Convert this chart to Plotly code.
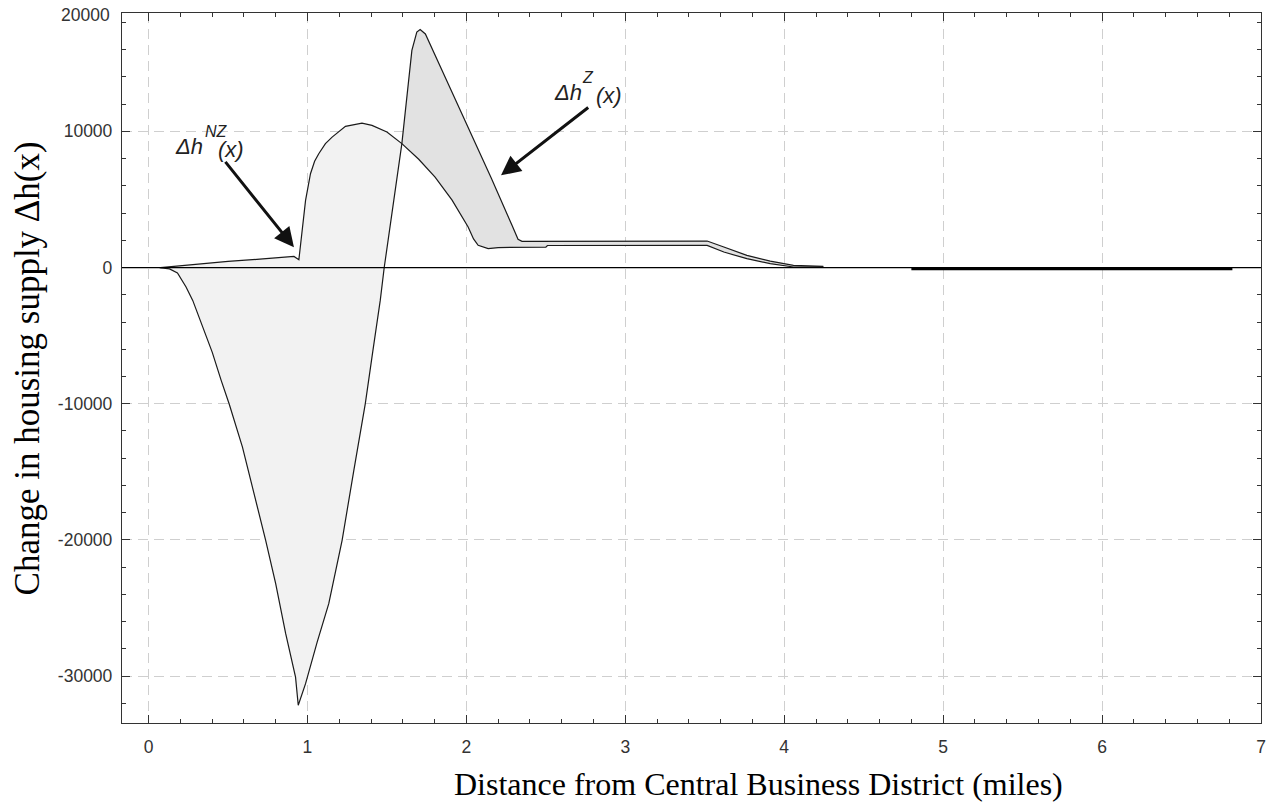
import plotly.graph_objects as go

# ---- data ----
# Delta h^NZ(x)
x_nz = [0.075, 0.30, 0.50, 0.70, 0.915, 0.946, 0.963, 0.975, 0.988, 1.019, 1.045, 1.071,
        1.113, 1.155, 1.239, 1.343, 1.406, 1.50, 1.594, 1.70, 1.803, 1.91, 2.011, 2.045,
        2.074, 2.137, 2.20, 2.50, 2.51, 3.515, 3.62, 3.765, 3.912, 4.058, 4.246]
y_nz = [0, 260, 450, 620, 820, 580, 2490, 3800, 4930, 6890, 7800, 8360,
        9100, 9580, 10370, 10600, 10440, 9950, 9100, 7950, 6645, 4950, 2975, 2100,
        1630, 1390, 1470, 1490, 1620, 1630, 1140, 650, 290, 40, 60]

# Delta h^Z(x)
x_z = [0.069, 0.132, 0.182, 0.236, 0.278, 0.338, 0.401, 0.457, 0.508, 0.591, 0.675, 0.737,
       0.800, 0.863, 0.925, 0.942, 0.988, 1.061, 1.134, 1.218, 1.291, 1.364, 1.412, 1.458,
       1.483, 1.594, 1.657, 1.688, 1.709, 1.742, 1.886, 2.011, 2.157, 2.287, 2.325, 2.35,
       3.515, 3.62, 3.765, 3.912, 4.058, 4.246]
y_z = [0, -95, -390, -1430, -2410, -4240, -6230, -8280, -10040, -13180, -17090, -20030,
       -23210, -26880, -30070, -32140, -30550, -27500, -24680, -20030, -14940, -9990, -6080,
       -2410, 0, 9100, 15950, 17290, 17470, 17150, 13480, 10300, 6550, 3100, 2070, 1920,
       1945, 1505, 895, 477, 160, 90]

# far tail (both curves just below zero)
x_tail = [4.80, 6.82]
y_tail = [-95, -95]

x_cross = 1.594  # where the two curves intersect

x_ticks = [0, 1, 2, 3, 4, 5, 6, 7]
x_ticktext = ["0", "1", "2", "3", "4", "5", "6", "7"]
y_ticks = [-30000, -20000, -10000, 0, 10000]
y_ticktext = ["-30000", "-20000", "-10000", "0", "10000"]
y_top_label = "20000"

# ---- fill polygons between the curves ----
def region(lo, hi):
    nx = [a for a in x_nz if lo <= a <= hi]
    ny = [b for a, b in zip(x_nz, y_nz) if lo <= a <= hi]
    zx = [a for a in x_z if lo <= a <= hi][::-1]
    zy = [b for a, b in zip(x_z, y_z) if lo <= a <= hi][::-1]
    return nx + zx, ny + zy

ax_, ay_ = region(0, x_cross)
bx_, by_ = region(x_cross, 10)

fig = go.Figure()
fig.add_trace(go.Scatter(x=ax_, y=ay_, mode="lines", fill="toself",
                         fillcolor="#f2f2f2", line=dict(width=0), hoverinfo="skip"))
fig.add_trace(go.Scatter(x=bx_, y=by_, mode="lines", fill="toself",
                         fillcolor="#e2e2e2", line=dict(width=0), hoverinfo="skip"))
fig.add_trace(go.Scatter(x=x_nz, y=y_nz, mode="lines",
                         line=dict(color="#1a1a1a", width=1.2)))
fig.add_trace(go.Scatter(x=x_z, y=y_z, mode="lines",
                         line=dict(color="#1a1a1a", width=1.2)))
fig.add_trace(go.Scatter(x=x_tail, y=y_tail, mode="lines",
                         line=dict(color="#000000", width=3)))

fig.add_shape(type="line", xref="paper", x0=0, x1=1, yref="y", y0=0, y1=0,
              line=dict(color="#000000", width=1.3), layer="above")

tickfont = dict(family="Liberation Sans, Arial, sans-serif", size=17.5, color="#333333")
axis_common = dict(
    showline=True, linecolor="#333333", linewidth=1.3, mirror="allticks",
    ticks="inside", ticklen=8, tickcolor="#333333", tickwidth=1,
    showgrid=True, gridcolor="#cfcfcf", gridwidth=1, griddash="10px,6px",
    zeroline=False, tickfont=tickfont, tickmode="array",
)
fig.update_xaxes(range=[-0.167, 7.0], tickvals=x_ticks, ticktext=x_ticktext,
                 ticklabelstandoff=8,
                 minor=dict(tickmode="linear", dtick=0.2, tick0=0, ticks="inside",
                            ticklen=4, tickcolor="#333333", showgrid=False),
                 **axis_common)
fig.update_yaxes(range=[-33440, 18690], tickvals=y_ticks, ticktext=y_ticktext,
                 ticklabelstandoff=5,
                 minor=dict(tickmode="linear", dtick=2000, tick0=0, ticks="inside",
                            ticklen=4, tickcolor="#333333", showgrid=False),
                 **axis_common)

ann = []
lab = dict(family="Liberation Sans, Arial, sans-serif", color="#222222")
# text labels
ann.append(dict(x=0.257, y=8900, xref="x", yref="y", text="<i>Δh</i>", showarrow=False,
                font=dict(size=22, **lab)))
ann.append(dict(x=0.428, y=10000, xref="x", yref="y", text="<i>NZ</i>", showarrow=False,
                font=dict(size=16, **lab)))
ann.append(dict(x=0.518, y=8700, xref="x", yref="y", text="<i>(x)</i>", showarrow=False,
                font=dict(size=22, **lab)))
ann.append(dict(x=2.637, y=12850, xref="x", yref="y", text="<i>Δh</i>", showarrow=False,
                font=dict(size=22, **lab)))
ann.append(dict(x=2.763, y=13950, xref="x", yref="y", text="<i>Z</i>", showarrow=False,
                font=dict(size=16, **lab)))
ann.append(dict(x=2.896, y=12650, xref="x", yref="y", text="<i>(x)</i>", showarrow=False,
                font=dict(size=22, **lab)))
# arrows
ann.append(dict(x=0.915, y=1483, ax=0.476, ay=7870, xref="x", yref="y", axref="x", ayref="y",
                text="", showarrow=True, arrowhead=2, arrowsize=1.3, arrowwidth=3,
                arrowcolor="#111111"))
ann.append(dict(x=2.218, y=6770, ax=2.776, ay=11836, xref="x", yref="y", axref="x", ayref="y",
                text="", showarrow=True, arrowhead=2, arrowsize=1.3, arrowwidth=3,
                arrowcolor="#111111"))
# top tick label (drawn at the top edge of the frame, as in the reference)
ann.append(dict(x=-0.0085, y=0.997, xref="paper", yref="paper", text=y_top_label,
                showarrow=False, xanchor="right", yanchor="middle", font=tickfont))
# axis titles
ann.append(dict(x=0.5586, y=-0.086, xref="paper", yref="paper",
                text="Distance from Central Business District (miles)", showarrow=False,
                xanchor="center", yanchor="middle",
                font=dict(family="Liberation Serif, Times New Roman, serif", size=32,
                          color="#000000")))
ann.append(dict(x=-0.083, y=0.5, xref="paper", yref="paper",
                text="Change in housing supply Δh(x)", showarrow=False, textangle=-90,
                xanchor="center", yanchor="middle",
                font=dict(family="Liberation Serif, Times New Roman, serif", size=35,
                          color="#000000")))

fig.update_layout(
    width=1274, height=808,
    margin=dict(l=122, r=8, t=13, b=85),
    paper_bgcolor="white", plot_bgcolor="white",
    showlegend=False, annotations=ann,
)

fig.write_html("out.html", config={"displayModeBar": False},
               post_script="document.body.style.margin='0px';"
                           "document.body.style.overflow='hidden';")
